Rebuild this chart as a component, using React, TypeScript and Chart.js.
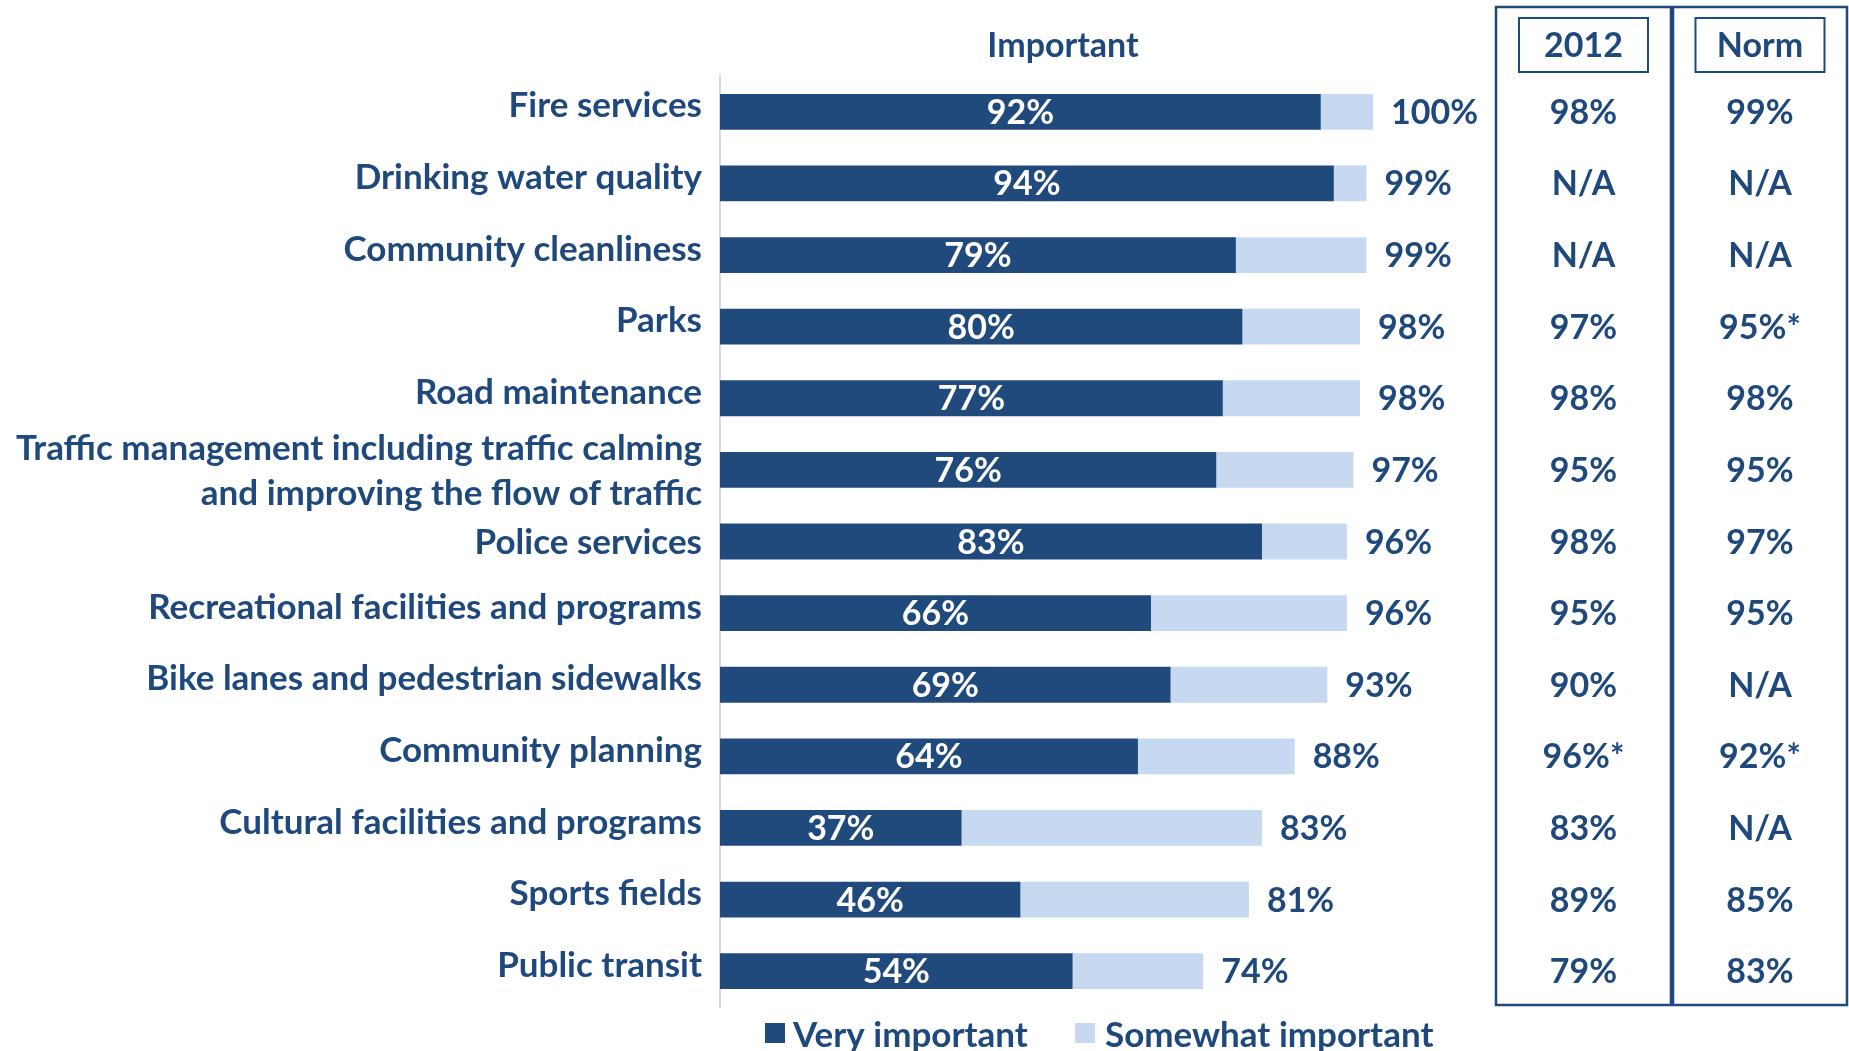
import React, { useEffect, useRef } from "react";
import { Chart, registerables } from "chart.js";

Chart.register(...registerables);

const categories: (string | string[])[] = [
  "Fire services",
  "Drinking water quality",
  "Community cleanliness",
  "Parks",
  "Road maintenance",
  ["Traffic management including traffic calming", "and improving the flow of traffic"],
  "Police services",
  "Recreational facilities and programs",
  "Bike lanes and pedestrian sidewalks",
  "Community planning",
  "Cultural facilities and programs",
  "Sports fields",
  "Public transit",
];
const veryImportant = [92, 94, 79, 80, 77, 76, 83, 66, 69, 64, 37, 46, 54];
const somewhatImportant = [8, 5, 20, 18, 21, 21, 13, 30, 24, 24, 46, 35, 20];
const totalImportant = [100, 99, 99, 98, 98, 97, 96, 96, 93, 88, 83, 81, 74];
const results2012 = ["98%", "N/A", "N/A", "97%", "98%", "95%", "98%", "95%", "90%", "96%*", "83%", "89%", "79%"];
const resultsNorm = ["99%", "N/A", "N/A", "95%*", "98%", "95%", "97%", "95%", "N/A", "92%*", "N/A", "85%", "83%"];
const tableHeaders = ["2012", "Norm"];
const seriesNames = ["Very important", "Somewhat important"];
const chartTitle = "Important";

const NAVY = "#1F497D";
const DARK = "#204A7C";
const LIGHT = "#C6D9F1";
const FAMILY = "Lato, 'Open Sans', sans-serif";
const FONT = `bold 34px ${FAMILY}`;
const LABEL_FONT = `bold 35px ${FAMILY}`;
const CAP_HALF = 12;
const LABEL_CAP_HALF = 12.6;
const LABEL_LINE = 45;
const LABEL_RAISE = 7; // category labels sit a little above the bar centre
const LABEL_NO_RAISE = new Set([5, 6]);

function text(ctx: CanvasRenderingContext2D, s: string, x: number, y: number, align: CanvasTextAlign, color: string, capHalf = CAP_HALF) {
  ctx.fillStyle = color;
  ctx.textAlign = align;
  ctx.textBaseline = "alphabetic";
  ctx.fillText(s, x, y + capHalf);
}

const overlayPlugin = {
  id: "overlay",
  afterDatasetsDraw(chart: any) {
    const ctx: CanvasRenderingContext2D = chart.ctx;
    const m0 = chart.getDatasetMeta(0);
    const m1 = chart.getDatasetMeta(1);
    const yScale = chart.scales.y;
    ctx.save();
    // category labels
    ctx.font = LABEL_FONT;
    const labelX = chart.chartArea.left - 18;
    categories.forEach((c, i) => {
      const cy = yScale.getPixelForValue(i) - (LABEL_NO_RAISE.has(i) ? 0 : LABEL_RAISE);
      const lines = Array.isArray(c) ? c : [c];
      lines.forEach((ln, k) => {
        const ly = cy + (k - (lines.length - 1) / 2) * LABEL_LINE;
        text(ctx, ln, labelX, ly, "right", NAVY, LABEL_CAP_HALF);
      });
    });
    ctx.font = FONT;
    m0.data.forEach((bar: any, i: number) => {
      const p = bar.getProps(["x", "y", "base"], true);
      text(ctx, `${veryImportant[i]}%`, (p.x + p.base) / 2, p.y, "center", "#ffffff");
    });
    m1.data.forEach((bar: any, i: number) => {
      const p = bar.getProps(["x", "y"], true);
      text(ctx, `${totalImportant[i]}%`, p.x + 18, p.y, "left", NAVY);
    });
    // title
    text(ctx, chartTitle, 1063, 45, "center", NAVY);
    // table
    const cols = [
      { left: 1496, right: 1671, values: results2012 },
      { left: 1673, right: 1847, values: resultsNorm },
    ];
    ctx.strokeStyle = NAVY;
    cols.forEach((c, ci) => {
      ctx.lineWidth = 2.5;
      ctx.strokeRect(c.left, 7, c.right - c.left, 998);
      const cx = (c.left + c.right) / 2;
      ctx.lineWidth = 2;
      ctx.strokeRect(cx - 64.5, 18, 129, 54);
      text(ctx, tableHeaders[ci], cx, 45, "center", NAVY);
      c.values.forEach((v, i) => {
        text(ctx, v, cx, yScale.getPixelForValue(i), "center", NAVY);
      });
    });
    // legend
    ctx.font = LABEL_FONT;
    const legendItems = [
      { sx: 765, tx: 793, color: DARK },
      { sx: 1075, tx: 1105, color: LIGHT },
    ];
    legendItems.forEach((li, i) => {
      ctx.fillStyle = li.color;
      ctx.fillRect(li.sx, 1023, 20, 20);
      text(ctx, seriesNames[i], li.tx, 1034, "left", NAVY, LABEL_CAP_HALF);
    });
    ctx.restore();
  },
};

export default function App() {
  const ref = useRef<HTMLCanvasElement | null>(null);
  useEffect(() => {
    if (!ref.current) return;
    const chart = new Chart(ref.current, {
      type: "bar",
      data: {
        labels: categories,
        datasets: [
          { label: seriesNames[0], data: veryImportant, backgroundColor: DARK, barPercentage: 0.5, categoryPercentage: 1 },
          { label: seriesNames[1], data: somewhatImportant, backgroundColor: LIGHT, barPercentage: 0.5, categoryPercentage: 1 },
        ],
      },
      options: {
        indexAxis: "y",
        animation: false,
        responsive: false,
        maintainAspectRatio: false,
        layout: { padding: { top: 76, bottom: 44, left: 0, right: 476 } },
        plugins: { legend: { display: false }, tooltip: { enabled: false }, title: { display: false } },
        scales: {
          x: { stacked: true, min: 0, max: 100, display: false },
          y: {
            stacked: true,
            grid: { display: false, drawTicks: false },
            border: { display: true, color: "#D9D9D9", width: 2 },
            ticks: { display: false, autoSkip: false },
            afterFit: (scale: any) => {
              scale.width = 720;
            },
          },
        },
      },
      plugins: [overlayPlugin],
    } as any);
    return () => chart.destroy();
  }, []);
  return (
    <div style={{ position: "fixed", left: 0, top: 0, width: 1849, height: 1051, background: "#fff", overflow: "hidden" }}>
      <canvas ref={ref} width={1849} height={1051} style={{ width: 1849, height: 1051, display: "block" }} />
    </div>
  );
}
